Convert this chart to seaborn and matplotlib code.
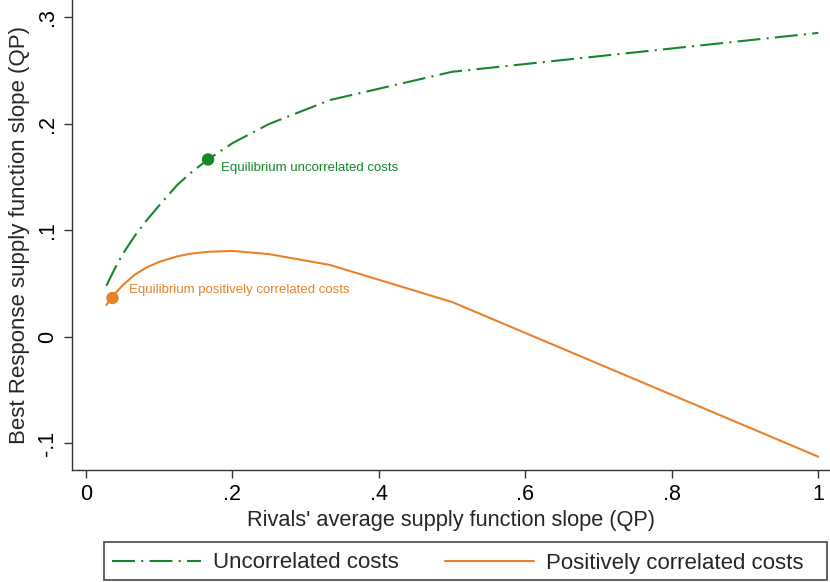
import matplotlib
matplotlib.use("Agg")
import matplotlib.pyplot as plt
import seaborn as sns
import pandas as pd
from matplotlib.lines import Line2D
from matplotlib.patches import Rectangle

# Rivals' average slope grid (1/n) and the best-response slopes
rival_slope = [1/36, 1/28, 1/25, 1/20, 1/15, 1/12, 1/10, 1/8, 1/7, 1/6,
               1/5, 1/4, 1/3, 1/2, 1.0]
br_uncorrelated = [0.048, 0.0592, 0.0651, 0.0777, 0.095, 0.110, 0.1235, 0.143,
                   0.154, 0.1667, 0.182, 0.200, 0.2225, 0.249, 0.2855]
br_pos_correlated = [0.030, 0.0375, 0.041, 0.0485, 0.0585, 0.0655, 0.0705, 0.0758,
                     0.0782, 0.0800, 0.0808, 0.0778, 0.0676, 0.0328, -0.1124]

# Equilibria (best response equals rivals' slope)
eq_x = [1/6, 0.0362]
eq_y = [1/6, 0.0366]
eq_labels = ["Equilibrium uncorrelated costs", "Equilibrium positively correlated costs"]

series_names = ["Uncorrelated costs", "Positively correlated costs"]
x_ticks = [0, 0.2, 0.4, 0.6, 0.8, 1.0]
x_ticklabels = ["0", ".2", ".4", ".6", ".8", "1"]
y_ticks = [-0.1, 0, 0.1, 0.2, 0.3]
y_ticklabels = ["-.1", "0", ".1", ".2", ".3"]

GREEN = "#17862a"
ORANGE = "#e8822a"

sns.set_theme(style="ticks")
plt.rcParams["font.family"] = ["Liberation Sans", "DejaVu Sans"]

W, H = 830, 582
fig = plt.figure(figsize=(W / 100, H / 100), dpi=100)
ax = fig.add_axes([72/W, 112/H, 758/W, 470/H])

df_u = pd.DataFrame({"x": rival_slope, "y": br_uncorrelated})
df_p = pd.DataFrame({"x": rival_slope, "y": br_pos_correlated})

dash = (0, (11, 3, 1, 3))
sns.lineplot(data=df_u, x="x", y="y", ax=ax, color=GREEN, lw=1.5,
             linestyle=dash, sort=False, estimator=None)
sns.lineplot(data=df_p, x="x", y="y", ax=ax, color=ORANGE, lw=1.5,
             sort=False, estimator=None)

df_eq = pd.DataFrame({"x": eq_x, "y": eq_y, "label": eq_labels})
sns.scatterplot(data=df_eq, x="x", y="y", hue="label",
                palette=[GREEN, ORANGE], s=80, edgecolor="none",
                ax=ax, legend=False, zorder=5)

ax.annotate(eq_labels[0], (eq_x[0], eq_y[0]), xytext=(9, -6),
            textcoords="offset points", color=GREEN, fontsize=9.5, va="center")
ax.annotate(eq_labels[1], (eq_x[1], eq_y[1]), xytext=(12, 6),
            textcoords="offset points", color=ORANGE, fontsize=9.5, va="center")

ax.set_xlim(-0.0191, 1.016)
ax.set_ylim(-0.1249, 0.3164)
ax.set_xticks(x_ticks)
ax.set_xticklabels(x_ticklabels, fontsize=15.5)
ax.set_yticks(y_ticks)
ax.set_yticklabels(y_ticklabels, fontsize=15.5, rotation=90, va="center")
ax.tick_params(axis="both", length=6, width=1, color="#333333", pad=4,
               labelcolor="black")
ax.set_xlabel("Rivals' average supply function slope (QP)", fontsize=15.7,
              labelpad=4)
ax.set_ylabel("Best Response supply function slope (QP)", fontsize=16,
              labelpad=5)
for side in ("top", "right"):
    ax.spines[side].set_visible(False)
for side in ("left", "bottom"):
    ax.spines[side].set_color("#333333")
    ax.spines[side].set_linewidth(1)

# Legend below the plot, inside a plain rectangular box
box_l, box_r, box_t, box_b = 104, 827, 542, 580
fig.patches.append(Rectangle((box_l / W, 1 - box_b / H), (box_r - box_l) / W,
                             (box_b - box_t) / H, transform=fig.transFigure,
                             fill=False, edgecolor="#555555", linewidth=1.3))
handles = [Line2D([], [], color=GREEN, lw=1.5, linestyle=dash),
           Line2D([], [], color=ORANGE, lw=1.5)]
fig.legend(handles, series_names, loc="center left",
           bbox_to_anchor=(box_l / W, 1 - 563 / H),
           ncol=2, fontsize=16, frameon=False, handlelength=4.0,
           handletextpad=0.55, columnspacing=2.1, borderpad=0.35,
           borderaxespad=0)

fig.savefig("out.png", dpi=100)
